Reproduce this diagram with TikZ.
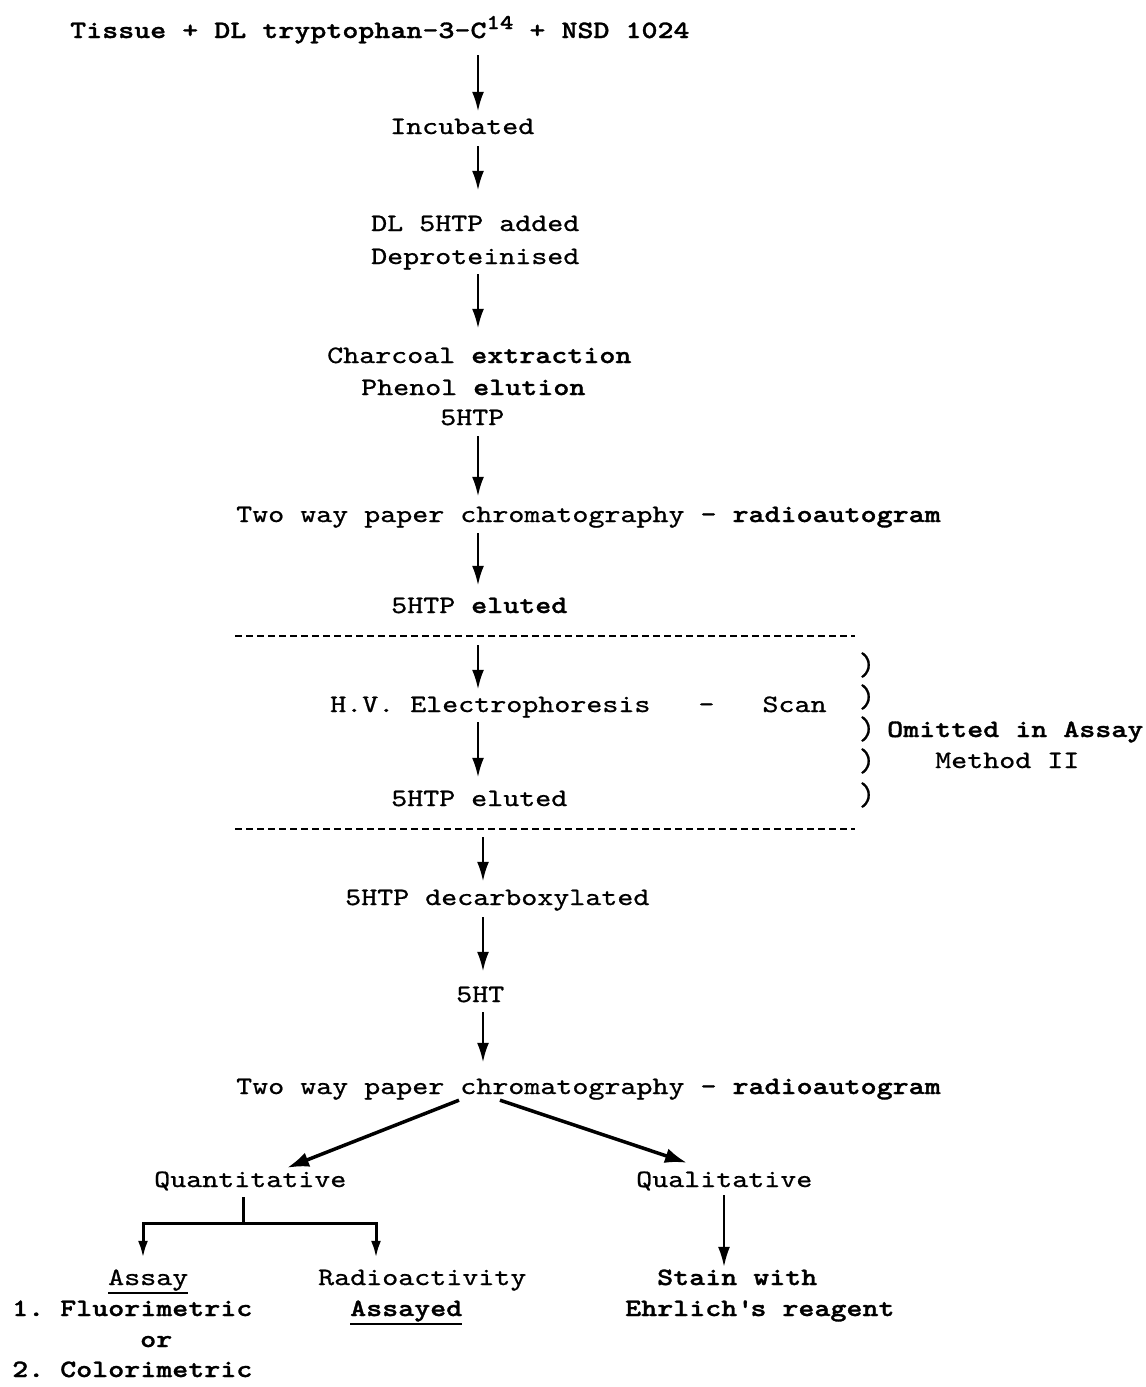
\documentclass[tikz,border=0pt]{standalone}
\usepackage{fontspec}
\newfontfamily\tw{lmmono10-regular}[Extension=.otf, FakeStretch=1.22, BoldFont=lmmonolt10-bold, UprightFeatures={FakeBold=0.8}, BoldFeatures={FakeBold=1.2}]
\usetikzlibrary{arrows.meta,calc}
\newcommand\myul[1]{\setbox0\hbox{#1}\rlap{\rule[-9pt]{\wd0}{2.2pt}}\box0}
\begin{document}
\frenchspacing
\begin{tikzpicture}[x=1pt,y=-1pt,
  lbl/.style={font=\tw\fontsize{25}{30}\selectfont, inner sep=0pt, anchor=west, text height=15pt, text depth=5pt},
  parn/.style={font=\tw\fontsize{26}{30}\selectfont, inner sep=0pt},
  arr/.style={line width=2.8pt, -{Latex[length=20pt,width=12pt]}},
  darr/.style={line width=3.5pt, -{Latex[length=22pt,width=15pt]}},
  tarr/.style={line width=3pt, -{Latex[length=17pt,width=10pt]}},
  dsh/.style={line width=2.2pt, dash pattern=on 7pt off 4pt}]
\fill[white] (0,0) rectangle (1146,1387);
\useasboundingbox (0,0) rectangle (1146,1387);
\coordinate (xa) at (478,0);
\coordinate (xb) at (483,0);
% nodes
\node[lbl] (t) at (70,33) {\bfseries Tissue + DL tryptophan-3-C\raisebox{9pt}{\fontsize{21}{21}\selectfont 14} + NSD 1024};
\node[lbl] (inc) at (390,129) {Incubated};
\node[lbl] (dl1) at (371,226) {DL 5HTP added};
\node[lbl] (dl2) at (371,259) {Deproteinised};
\node[lbl] (ch1) at (327,358) {Charcoal \textbf{extraction}};
\node[lbl] (ch2) at (361,390) {Phenol \textbf{elution}};
\node[lbl] (ch3) at (440,420) {5HTP};
\node[lbl] (tw1) at (236,517) {Two way paper chromatography \textbf{- radioautogram}};
\node[lbl] (el1) at (391,608) {5HTP \textbf{eluted}};
\coordinate (d1l) at (235,636);
\coordinate (d1r) at (855,636);
\node[lbl] (hv) at (330,707) {H.V. Electrophoresis~~~-~~~Scan};
\node[lbl] (el2) at (391,801) {5HTP eluted};
\coordinate (d2l) at (235,829);
\coordinate (d2r) at (855,829);
\node[lbl] (dec) at (345,900) {5HTP decarboxylated};
\node[lbl] (ht) at (456,997) {5HT};
\node[lbl] (tw2) at (236,1089) {Two way paper chromatography \textbf{- radioautogram}};
\node[lbl] (quant) at (154,1182) {Quantitative};
\node[lbl] (qual) at (636,1182) {Qualitative};
\node[lbl] (assay) at (108,1280) {\myul{Assay}};
\node[lbl] (fl) at (12,1311) {\textbf{1. Fluorimetric}};
\node[lbl] (or) at (140,1342) {\textbf{or}};
\node[lbl] (co) at (12,1372) {\textbf{2. Colorimetric}};
\node[lbl] (ra) at (318,1280) {Radioactivity};
\node[lbl] (ay) at (350,1311) {\textbf{\myul{Assayed}}};
\node[lbl] (st) at (657,1280) {\textbf{Stain with}};
\node[lbl] (eh) at (625,1311) {\textbf{Ehrlich\textquotesingle s reagent}};
\node[lbl] (om) at (887,732) {\textbf{Omitted in Assay}};
\node[lbl] (me) at (935,763) {Method II};
\node[parn] (p1) at (867,665) {\scalebox{1}[1.25]{)}};
\node[parn] (p2) at (867,697) {\scalebox{1}[1.25]{)}};
\node[parn] (p3) at (867,729) {\scalebox{1}[1.25]{)}};
\node[parn] (p4) at (867,761) {\scalebox{1}[1.25]{)}};
\node[parn] (p5) at (867,795) {\scalebox{1}[1.25]{)}};
% dashed separators
\draw[dsh] (d1l) -- (d1r);
\draw[dsh] (d2l) -- (d2r);
% vertical arrows
\draw[arr, shorten <=12pt, shorten >=7pt] (t.south -| xa) -- (inc.north -| xa);
\draw[arr, shorten <=7pt, shorten >=25pt] (inc.south -| xa) -- (dl1.north -| xa);
\draw[arr, shorten <=5pt, shorten >=19pt] (dl2.south -| xa) -- (ch1.north -| xa);
\draw[arr, shorten <=6pt, shorten >=10pt] (ch3.south -| xa) -- (tw1.north -| xa);
\draw[arr, shorten <=6pt, shorten >=12pt] (tw1.south -| xa) -- (el1.north -| xa);
\draw[arr, shorten <=9pt, shorten >=7pt] (d1l -| xa) -- (hv.north -| xa);
\draw[arr, shorten <=5pt, shorten >=13pt] (hv.south -| xa) -- (el2.north -| xa);
\draw[arr, shorten <=8pt, shorten >=8pt] (d2l -| xb) -- (dec.north -| xb);
\draw[arr, shorten <=7pt, shorten >=15pt] (dec.south -| xb) -- (ht.north -| xb);
\draw[arr, shorten <=5pt, shorten >=16pt] (ht.south -| xb) -- (tw2.north -| xb);
% branches
\draw[darr] ($(tw2.south west)+(223,1)$) -- ($(quant.north west)+(133,-4)$);
\draw[darr] ($(tw2.south west)+(264,1)$) -- ($(qual.north west)+(51,-9)$);
\draw[tarr] ($(quant.south west)+(89,5)$) -- ++(0,26) -| ($(assay.north west)+(35,-12)$);
\draw[tarr] ($(quant.south west)+(89,5)$) -- ++(0,26) -| ($(ra.north west)+(58,-12)$);
\draw[arr, line width=2.2pt] ($(qual.south west)+(88,3)$) -- ($(st.north west)+(67,-3)$);
\end{tikzpicture}
\end{document}
